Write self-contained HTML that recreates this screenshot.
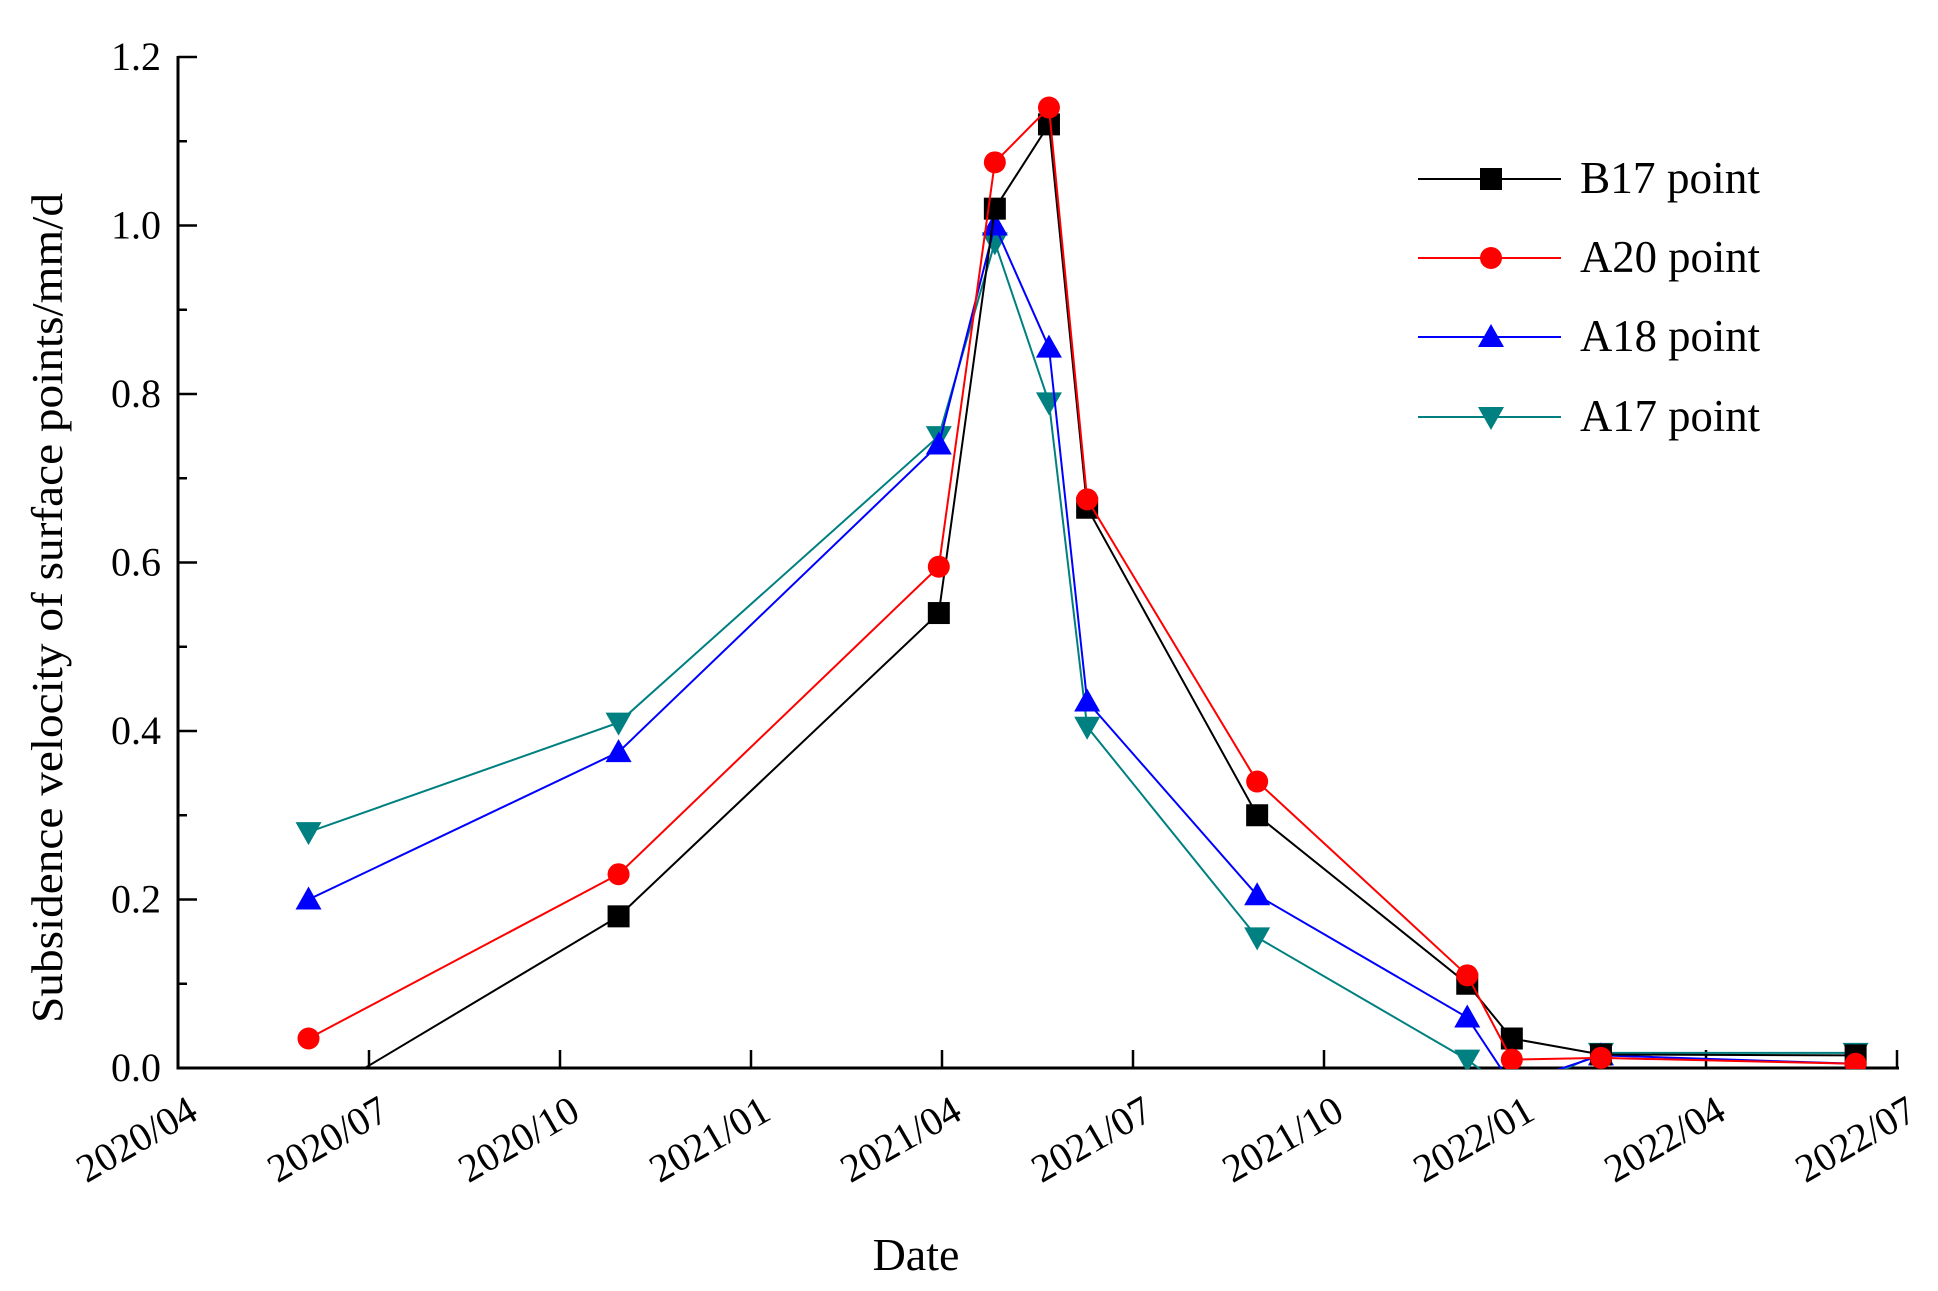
<!DOCTYPE html>
<html><head><meta charset="utf-8"><style>
html,body{margin:0;padding:0;background:#fff;}
svg{display:block;font-family:"Liberation Serif",serif;}
</style></head><body>
<svg id="chart" width="1938" height="1291" viewBox="0 0 1938 1291" xmlns="http://www.w3.org/2000/svg">
<defs><clipPath id="plotclip"><rect x="178" y="40" width="1730" height="1029"/></clipPath></defs>
<g id="axes"></g>
<g id="series" clip-path="url(#plotclip)"></g>
<g id="legend"></g>
</svg>
<script>
// data (months since 2020/04)
const dateMonths = [2.05, 6.92, 11.95, 12.83, 13.68, 14.28, 16.95, 20.25, 20.95, 22.35, 26.35];
const b17 = [-0.04, 0.18, 0.54, 1.02, 1.12, 0.665, 0.30, 0.10, 0.035, 0.016, 0.015];
const a20 = [0.035, 0.23, 0.595, 1.075, 1.14, 0.675, 0.34, 0.11, 0.01, 0.012, 0.005];
const a18 = [0.20, 0.375, 0.74, 1.0, 0.855, 0.435, 0.205, 0.06, -0.02, 0.015, 0.005];
const a17 = [0.28, 0.41, 0.75, 0.98, 0.79, 0.405, 0.155, 0.01, -0.03, 0.018, 0.018];
const xTickLabels = ["2020/04","2020/07","2020/10","2021/01","2021/04","2021/07","2021/10","2022/01","2022/04","2022/07"];
const yTickLabels = ["0.0","0.2","0.4","0.6","0.8","1.0","1.2"];
const seriesNames = ["B17 point","A20 point","A18 point","A17 point"];

const NS="http://www.w3.org/2000/svg";
const X0=178, Y0=1068, YTOP=57, MPX=191/3;
const xs=m=>X0+m*MPX;
const ys=v=>Y0-v*(Y0-YTOP)/1.2;
function mk(tag,attrs,parent){const e=document.createElementNS(NS,tag);for(const k in attrs)e.setAttribute(k,attrs[k]);parent.appendChild(e);return e;}
const axes=document.getElementById('axes'), ser=document.getElementById('series'), leg=document.getElementById('legend');

let yl=mk('line',{x1:X0,y1:Y0+1.5,x2:X0,y2:YTOP-1,stroke:'#000','stroke-width':3},axes);


let xl=mk('line',{x1:X0-1.5,y1:Y0,x2:xs(27)+2,y2:Y0,stroke:'#000','stroke-width':3},axes);



for(let i=0;i<=12;i++){
  const v=i*0.1, y=ys(v), major=i%2===0;
  let t=mk('line',{x1:X0,y1:y,x2:X0+(major?19:9),y2:y,stroke:'#000','stroke-width':2.5},axes);
  
  
  if(major){
    let tx=mk('text',{x:X0-17,y:y+13,'font-size':40,'text-anchor':'end',fill:'#000'},axes);
    tx.textContent=yTickLabels[i/2];
    
    
  }
}
xTickLabels.forEach((lab,i)=>{
  const x=xs(i*3);
  if(i>0){
    let t=mk('line',{x1:x,y1:Y0,x2:x,y2:Y0-18,stroke:'#000','stroke-width':2.5},axes);
    
    
  }
  let tx=mk('text',{x:x+22,y:Y0+50,'font-size':40,'text-anchor':'end',fill:'#000',transform:`rotate(-30 ${x+22} ${Y0+50})`},axes);
  tx.textContent=lab;
  
  
});
let xt=mk('text',{x:916,y:1270,'font-size':46,'text-anchor':'middle',fill:'#000'},axes);
xt.textContent='Date';


let yt=mk('text',{x:0,y:0,'font-size':44,'text-anchor':'middle',fill:'#000',textLength:830,lengthAdjust:'spacingAndGlyphs',transform:'translate(62 608) rotate(-90)'},axes);
yt.textContent='Subsidence velocity of surface points/mm/d';



function marker(type,x,y,color,parent){
  let e;
  if(type==='square') e=mk('rect',{x:x-11,y:y-11,width:22,height:22,fill:color},parent);
  else if(type==='circle') e=mk('circle',{cx:x,cy:y,r:11,fill:color},parent);
  else if(type==='up') e=mk('polygon',{points:`${x},${y-13} ${x-13},${y+10} ${x+13},${y+10}`,fill:color},parent);
  else e=mk('polygon',{points:`${x},${y+13} ${x-13},${y-10} ${x+13},${y-10}`,fill:color},parent);
  return e;
}
const allSeries=[[b17,'#000','square'],[a20,'#ff0000','circle'],[a18,'#0000ff','up'],[a17,'#008080','down']];
[3,2,0,1].forEach(si=>{
  const [vals,color,mt]=allSeries[si];
  const g=mk('g',{},ser);
  
  
  const pts=vals.map((v,i)=>xs(dateMonths[i])+','+ys(v)).join(' ');
  let pl=mk('polyline',{points:pts,fill:'none',stroke:color,'stroke-width':2},g);
  
  
  vals.forEach((v,i)=>{
    let m=marker(mt,xs(dateMonths[i]),ys(v),color,g);
    
    
  });
});
const legY=[179,258,337,417];
allSeries.forEach((s,i)=>{
  const g=mk('g',{},leg);
  
  
  mk('line',{x1:1418,y1:legY[i],x2:1561,y2:legY[i],stroke:s[1],'stroke-width':2},g);
  marker(s[2],1491,legY[i],s[1],g);
  let t=mk('text',{x:1580,y:legY[i]+14,'font-size':45,fill:'#000',textLength:180,lengthAdjust:'spacingAndGlyphs'},g);
  t.textContent=seriesNames[i];
});
</script>
</body></html>
